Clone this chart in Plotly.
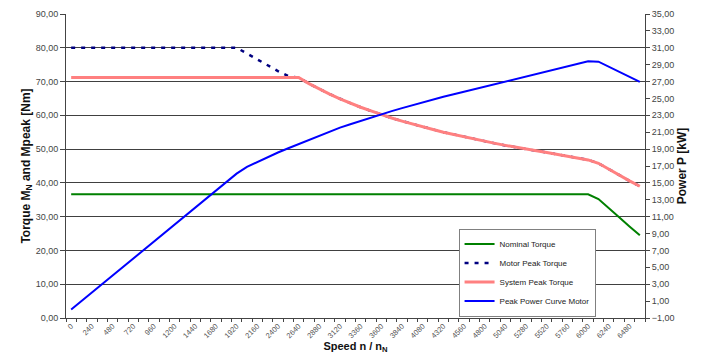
import plotly.graph_objects as go

speed = [i * 120 for i in range(56)]

nominal_torque = [36.6] * 51 + [35.2, 32.6, 29.8, 27.1, 24.5]

motor_peak_torque = [80.0] * 17 + [78.3, 76.5, 74.8, 73.1, 71.6, 71.2,
    69.4, 67.8, 66.3, 64.9, 63.6, 62.4, 61.3, 60.2, 59.2, 58.3, 57.4, 56.6,
    55.8, 55.0, 54.3, 53.6, 52.9, 52.3, 51.7, 51.1, 50.5, 50.0, 49.5, 49.0,
    48.5, 48.0, 47.4, 46.8, 45.8, 44.0, 42.2, 40.6, 39.0]

system_peak_torque = [71.2] * 23 + [69.4, 67.8, 66.3, 64.9, 63.6, 62.4,
    61.3, 60.2, 59.2, 58.3, 57.4, 56.6, 55.8, 55.0, 54.3, 53.6, 52.9, 52.3,
    51.7, 51.1, 50.5, 50.0, 49.5, 49.0, 48.5, 48.0, 47.4, 46.8, 45.8, 44.0,
    42.2, 40.6, 39.0]

peak_power = [0.0, 1.0, 2.01, 3.02, 4.02, 5.03, 6.03, 7.04, 8.04, 9.05,
    10.05, 11.06, 12.06, 13.07, 14.08, 15.08, 16.09, 16.9, 17.5, 18.05,
    18.6, 19.1, 19.6, 20.1, 20.6, 21.1, 21.55, 21.95, 22.35, 22.75,
    23.1, 23.5, 23.85, 24.2, 24.55, 24.9, 25.2, 25.5, 25.8, 26.1,
    26.4, 26.7, 27.0, 27.3, 27.6, 27.9, 28.25, 28.55, 28.85, 29.15,
    29.39, 29.35, 28.74, 28.11, 27.59, 26.96]

x_labels = [str(v) for v in range(0, 6481, 240)]
torque_ticks = list(range(0, 91, 10))
power_ticks = list(range(-1, 36, 2))

FONT = "Liberation Sans, Arial, sans-serif"

fig = go.Figure()
fig.add_trace(go.Scatter(x=speed, y=nominal_torque, name="Nominal Torque",
    mode="lines", line=dict(color="#008000", width=2)))
fig.add_trace(go.Scatter(x=speed, y=motor_peak_torque, name="Motor Peak Torque",
    mode="lines", line=dict(color="#000080", width=2.5, dash="4px,6px")))
fig.add_trace(go.Scatter(x=speed, y=system_peak_torque, name="System Peak Torque",
    mode="lines", line=dict(color="#FF8080", width=3)))
fig.add_trace(go.Scatter(x=speed, y=peak_power, name="Peak Power Curve Motor",
    mode="lines", line=dict(color="#0000FF", width=2), yaxis="y2"))

# page body adds an 8px margin, so the figure is drawn 8px smaller and shifted
fig.update_layout(
    width=693, height=348,
    margin=dict(l=58, r=56, t=6, b=38),
    paper_bgcolor="white", plot_bgcolor="white",
    separators=",.",
    font=dict(family=FONT, size=9, color="#333"),
    showlegend=True,
    legend=dict(x=0.678, y=0.294, xanchor="left", yanchor="top",
        bgcolor="white", bordercolor="#808080", borderwidth=1,
        font=dict(size=8, color="#222"), tracegroupgap=0),
    xaxis=dict(range=[-60, 6660], tickmode="array", automargin=False,
        tickvals=list(range(0, 6481, 240)), ticktext=x_labels,
        tickangle=-45, tickfont=dict(size=7.5, color="#555"),
        ticks="", showgrid=False, zeroline=False,
        showline=True, linecolor="#444", linewidth=1,
        minor=dict(tick0=-60, dtick=120, ticks="outside", ticklen=3,
                   tickcolor="#444", showgrid=False),
        title=dict(text="<b>Speed n / n<sub>N</sub></b>", standoff=0,
                   font=dict(size=11, color="#111"))),
    yaxis=dict(range=[0, 90], tickmode="array", tickvals=torque_ticks,
        automargin=False,
        tickformat=".2f", ticks="outside", ticklen=5, tickcolor="#444",
        showgrid=True, gridcolor="#404040", gridwidth=1, zeroline=False,
        showline=True, linecolor="#444", linewidth=1,
        tickfont=dict(size=9, color="#444"),
        title=dict(text="<b>Torque M<sub>N</sub> and Mpeak [Nm]</b>", standoff=2,
                   font=dict(size=12, color="#111"))),
    yaxis2=dict(range=[-1, 35], overlaying="y", side="right",
        automargin=False,
        tickmode="array", tickvals=power_ticks, tickformat=".2f",
        ticks="outside", ticklen=4, tickcolor="#444",
        showgrid=False, zeroline=False,
        showline=True, linecolor="#444", linewidth=1,
        tickfont=dict(size=9, color="#444"),
        title=dict(text="<b>Power P [kW]</b>", standoff=4,
                   font=dict(size=12, color="#111"))),
)

fig.write_html("out.html")
